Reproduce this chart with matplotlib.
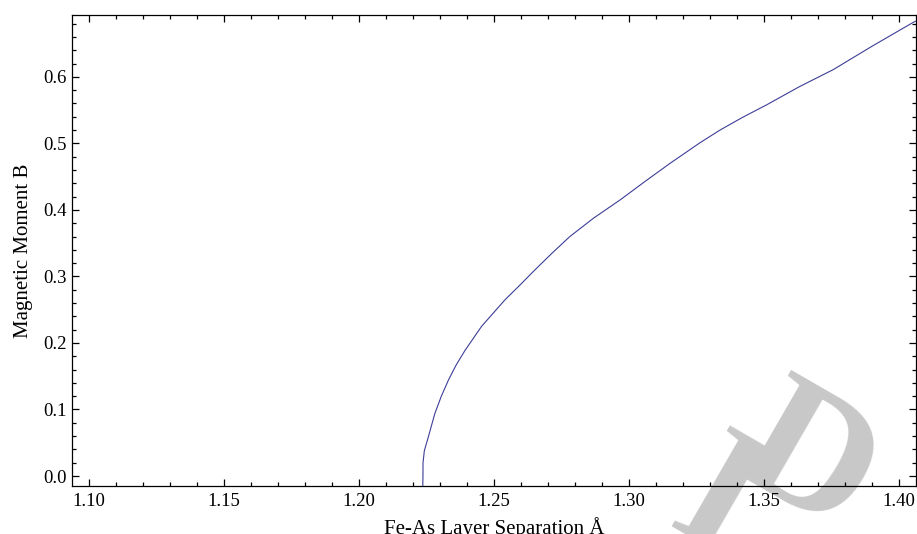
import numpy as np
import matplotlib.pyplot as plt
from matplotlib.ticker import MultipleLocator, FormatStrFormatter

# Curve (Fe-As separation in Angstrom, moment in B)
sep = [1.2236, 1.2237, 1.2237, 1.2242, 1.2257, 1.2281, 1.2305, 1.2331, 1.2360,
       1.2393, 1.2454, 1.2541, 1.2596, 1.2652, 1.2715, 1.2781, 1.2870, 1.2967,
       1.3060, 1.3152, 1.3263, 1.3337, 1.3420, 1.3510, 1.3630, 1.3757, 1.3900,
       1.4053, 1.4070]
moment = [-0.02, 0.0, 0.019, 0.038, 0.059, 0.094, 0.120, 0.144, 0.167,
          0.189, 0.225, 0.265, 0.287, 0.310, 0.335, 0.360, 0.388, 0.415,
          0.443, 0.470, 0.501, 0.520, 0.539, 0.558, 0.585, 0.611, 0.646,
          0.682, 0.685]

xticks = [1.10, 1.15, 1.20, 1.25, 1.30, 1.35, 1.40]
yticks = [0.0, 0.1, 0.2, 0.3, 0.4, 0.5, 0.6]

plt.rcParams['font.family'] = ['Liberation Serif', 'DejaVu Serif']

fig = plt.figure(figsize=(9.17, 5.34), dpi=100)
ax = fig.add_axes([0.0785, 0.0899, 0.9204, 0.882])
ax.set_facecolor('none')

ax.plot(sep, moment, color='#3d3d99', lw=0.8, zorder=3)

ax.set_xlim(1.0937, 1.4063)
ax.set_ylim(-0.015, 0.693)
ax.set_xticks(xticks)
ax.set_yticks(yticks)
ax.xaxis.set_major_formatter(FormatStrFormatter('%.2f'))
ax.yaxis.set_major_formatter(FormatStrFormatter('%.1f'))
ax.xaxis.set_minor_locator(MultipleLocator(0.01))
ax.yaxis.set_minor_locator(MultipleLocator(0.02))
ax.tick_params(which='both', direction='in', top=True, right=True,
               labelsize=13.5, width=0.9, colors='black')
ax.tick_params(which='major', length=5)
ax.tick_params(which='minor', length=3)
ax.tick_params(axis='x', pad=5)
ax.tick_params(axis='y', pad=4)
for s in ax.spines.values():
    s.set_linewidth(0.9)

ax.set_xlabel('Fe-As Layer Separation Å', fontsize=15, labelpad=5)
ax.set_ylabel('Magnetic Moment B', fontsize=15, labelpad=7)

# grey watermark behind the frame
wm = dict(color='#c8c8c8', fontsize=128, fontweight='bold', ha='center',
          va='center', rotation=-30, rotation_mode='anchor', zorder=-5)
fig.text(806 / 917, 1 - 466 / 534, 'D', **wm)
fig.text(716 / 917, 1 - 506 / 534, 'I', **wm)

fig.savefig('out.png', dpi=100)
